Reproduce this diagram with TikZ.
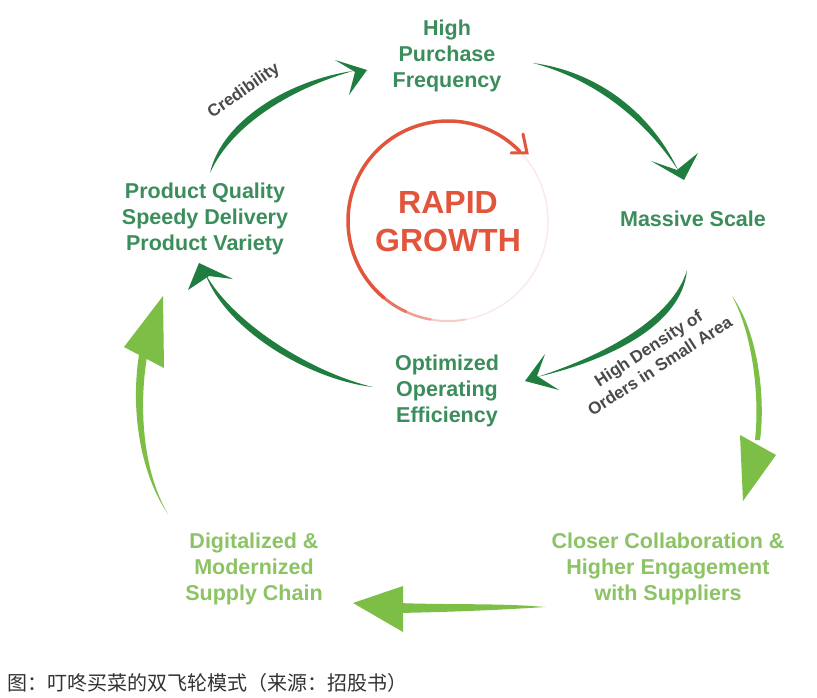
\documentclass[tikz,border=0pt]{standalone}
\usepackage{fontspec}
\setmainfont{Liberation Sans}
\newfontfamily\cjkfont{Noto Sans CJK SC}
\definecolor{txtdark}{HTML}{3B8E5C}
\definecolor{arrowdark}{HTML}{1F7D3F}
\definecolor{arrowlight}{HTML}{7DBE46}
\definecolor{txtlight}{HTML}{8CC364}
\definecolor{growred}{HTML}{E1553C}
\definecolor{lblgray}{HTML}{4A4A4A}
\definecolor{capgray}{HTML}{333333}
\begin{document}
\begin{tikzpicture}[x=1pt,y=-1pt,
  dg/.style={fill=arrowdark, draw=none},
  lg/.style={fill=arrowlight, draw=none},
  lbl/.style={font=\bfseries\fontsize{21.5}{26}\selectfont, align=center, inner sep=0pt},
  sidelbl/.style={font=\bfseries\fontsize{17}{21}\selectfont, align=center, inner sep=0pt, text=lblgray},
  ring/.style={line width=3.5pt, line cap=round}]
\fill[white] (0,0) rectangle (817,698);
\useasboundingbox (0,0) rectangle (817,698);

% ---------- text nodes ----------
\node[lbl, text=txtdark] (hpf) at (447,56) {High\\Purchase\\Frequency};
\node[lbl, text=txtdark] (pq) at (205,219) {Product Quality\\Speedy Delivery\\Product Variety};
\node[lbl, text=txtdark] (ms) at (693,219) {Massive Scale};
\node[lbl, text=txtdark] (ooe) at (447,391) {Optimized\\Operating\\Efficiency};
\node[lbl, text=txtlight] (dsc) at (254,569) {Digitalized \&\\Modernized\\Supply Chain};
\node[lbl, text=txtlight] (ccs) at (668,569) {Closer Collaboration \&\\Higher Engagement\\with Suppliers};
\node[font=\bfseries\fontsize{32}{38}\selectfont, text=growred, align=center, inner sep=0pt] (rg) at (448,222) {RAPID\\GROWTH};
\node[sidelbl, rotate=35] (cred) at (244,91) {Credibility};
\node[sidelbl, rotate=33] (hdo) at (654,357) {High Density of\\Orders in Small Area};
\node[anchor=west, inner sep=0pt, font=\cjkfont\fontsize{20}{23}\selectfont, text=capgray] (cap) at (7,683) {图：叮咚买菜的双飞轮模式（来源：招股书）};

% ---------- red ring around RAPID GROWTH ----------
\coordinate (rc) at (448,221);
\draw[ring, growred!12, line width=1.5pt] ([shift={(rc)}]-44:100) arc[start angle=-44, end angle=80, radius=100];
\draw[ring, growred!30, line width=2pt] ([shift={(rc)}]80:100) arc[start angle=80, end angle=100, radius=100];
\draw[ring, growred!55, line width=2.5pt] ([shift={(rc)}]100:100) arc[start angle=100, end angle=115, radius=100];
\draw[ring, growred!80, line width=3pt] ([shift={(rc)}]115:100) arc[start angle=115, end angle=130, radius=100];
\draw[ring, growred] ([shift={(rc)}]130:100) arc[start angle=130, end angle=316, radius=100];
\draw[growred, line width=3pt, line cap=round, line join=miter] (523,134) -- (527,153) -- (511,153);

% ---------- dark green inner cycle ----------
% Product quality -> High purchase frequency (Credibility)
\coordinate (a1s) at (210,173);
\coordinate (a1e) at (353,71);
\fill[dg] (a1s) .. controls (222,120) and (290,80) .. (a1e) .. controls (293,88) and (232,124) .. (a1s) -- cycle;
\fill[dg] (367,70) -- (335,60) -- (355,72) -- (349,95) -- cycle;

% High purchase frequency -> Massive scale
\coordinate (a2s) at (533,63);
\coordinate (a2e) at (678,170);
\fill[dg] (a2s) .. controls (600,72) and (652,115) .. (a2e) .. controls (645,120) and (596,80) .. (a2s) -- cycle;
\fill[dg] (684,180) -- (651,161) -- (677,170) -- (698,153) -- cycle;

% Massive scale -> Optimized operating efficiency
\coordinate (a3s) at (687,270);
\coordinate (a3e) at (537,377);
\fill[dg] (a3s) .. controls (682,325) and (610,360) .. (a3e) .. controls (605,355) and (673,318) .. (a3s) -- cycle;
\fill[dg] (525,381) -- (545,354) -- (537,376) -- (559,390) -- cycle;

% Optimized operating efficiency -> Product quality
\coordinate (a4s) at (373,387);
\coordinate (a4e) at (205,273);
\fill[dg] (a4s) .. controls (310,380) and (225,330) .. (a4e) .. controls (233,324) and (313,373) .. (a4s) -- cycle;
\fill[dg] (199,263) -- (233,279) -- (209,276) -- (188,290) -- cycle;

% ---------- light green outer cycle ----------
% Massive scale -> Closer collaboration
\coordinate (b1s) at (732,296);
\fill[lg] (b1s) .. controls (757,330) and (766,395) .. (760,440) -- (755,440) .. controls (760,395) and (752,332) .. (b1s) -- cycle;
\fill[lg] (740,435) -- (776,455) -- (743,501) -- cycle;

% Closer collaboration -> Digitalized supply chain
\coordinate (b2s) at (545,607);
\fill[lg] (b2s) .. controls (500,603) and (450,605) .. (398,603) -- (398,613) .. controls (450,612) and (500,610) .. (b2s) -- cycle;
\fill[lg] (353,603) -- (403,586) -- (403,632) -- cycle;

% Digitalized supply chain -> Product quality
\coordinate (b3s) at (168,514);
\fill[lg] (b3s) .. controls (138,470) and (131,405) .. (139,355) -- (147,357) .. controls (139,405) and (142,470) .. (b3s) -- cycle;
\fill[lg] (163,296) -- (124,347) -- (164,368) -- cycle;
\end{tikzpicture}
\end{document}
